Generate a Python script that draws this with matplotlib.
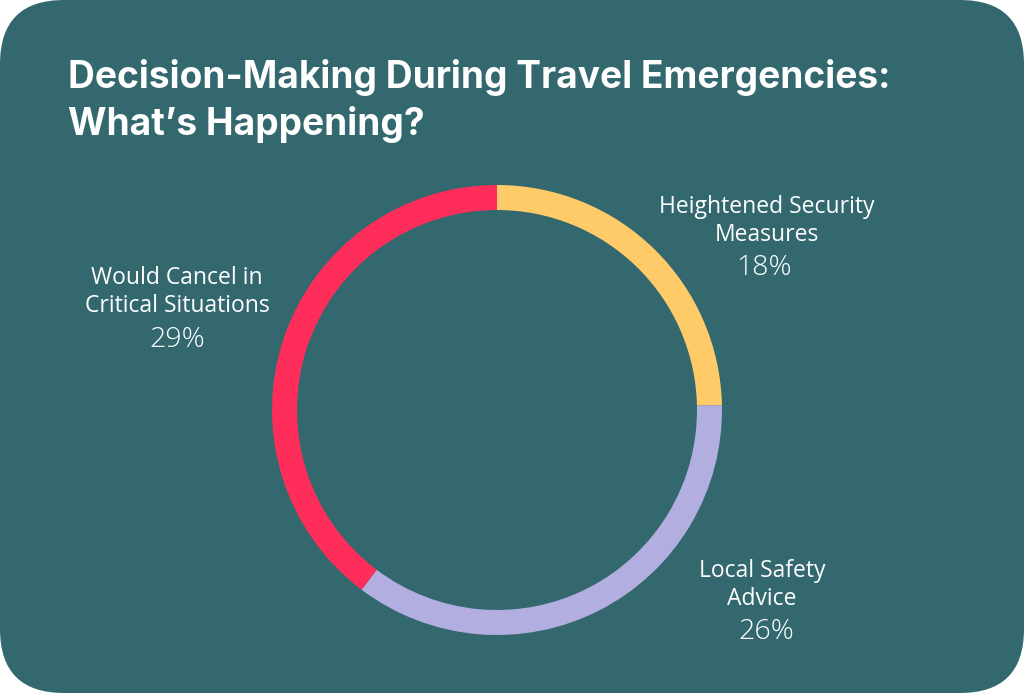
import matplotlib
matplotlib.use("Agg")
import matplotlib.pyplot as plt
from matplotlib.patches import FancyBboxPatch

title = "Decision-Making During Travel Emergencies:\nWhat’s Happening?"
categories = ["Heightened Security\nMeasures", "Local Safety\nAdvice", "Would Cancel in\nCritical Situations"]
values = [18, 26, 29]
colors = ["#FFCB69", "#B3AEE0", "#FF2D5A"]

BG = "#33686F"
W, H = 1024, 693

fig = plt.figure(figsize=(W / 100, H / 100), dpi=100)
fig.patch.set_facecolor("white")
ax = fig.add_axes([0, 0, 1, 1])
ax.set_xlim(0, W)
ax.set_ylim(0, H)
ax.set_aspect("equal")
ax.axis("off")

card = FancyBboxPatch((0, 0), W, H, boxstyle="round,pad=0,rounding_size=64",
                      facecolor=BG, edgecolor="none", zorder=0)
ax.add_patch(card)

cx, cy, R = 497, H - 410, 225
ax.pie(values, colors=colors, startangle=90, counterclock=False,
       center=(cx, cy), radius=R, frame=True,
       wedgeprops=dict(width=25, edgecolor="none", linewidth=0))
ax.set_xlim(0, W)
ax.set_ylim(0, H)
ax.axis("off")

lines = title.split("\n")
ax.text(68, H - 88, lines[0], fontsize=26.7,
        fontweight="bold", color="white", family=["Inter", "DejaVu Sans"], va="baseline", ha="left")
ax.text(68, H - 135, lines[1], fontsize=26.7,
        fontweight="bold", color="white", family=["Inter", "DejaVu Sans"], va="baseline", ha="left")

label_pos = [(767, 221), (762, 585), (177, 292)]
pct_pos = [(764, 268), (766, 632), (177, 340)]
for cat, val, (lx, ly), (px, py) in zip(categories, values, label_pos, pct_pos):
    ax.text(lx, H - ly, cat, fontsize=16.5, color="white", ha="center", va="center",
            family=["Open Sans", "DejaVu Sans"], linespacing=1.17)
    ax.text(px, H - py, f"{val}%", fontsize=20.5, color="white", ha="center", va="center",
            family=["Open Sans", "DejaVu Sans"], fontweight=300)

fig.savefig("out.png", dpi=100, facecolor="white")
